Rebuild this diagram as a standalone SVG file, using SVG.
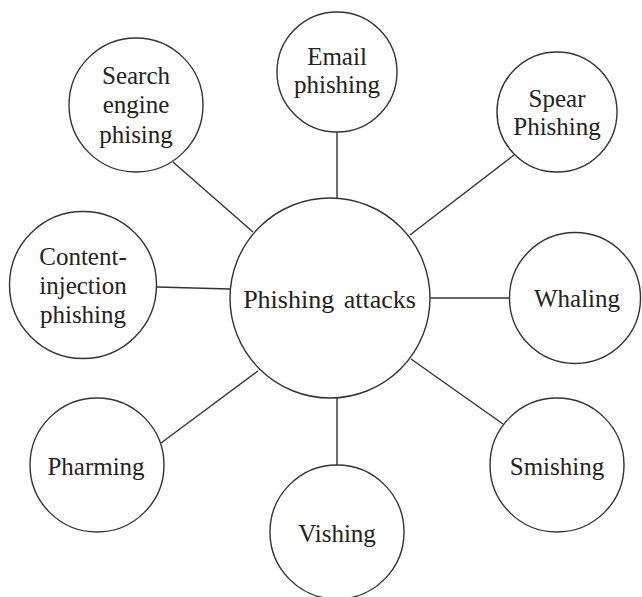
<svg xmlns="http://www.w3.org/2000/svg" width="642" height="597" viewBox="0 0 642 597">
<style>
.n{fill:#fff;stroke:#333;stroke-width:1.4}
.t{font-family:"Liberation Serif","Times New Roman",serif;font-size:25px;fill:#222;text-anchor:middle}
.c line{stroke:#333;stroke-width:1.4}
</style>
<rect width="642" height="597" fill="#fff"/>
<g class="c" id="connectors">
<line x1="173" y1="162" x2="253" y2="232"/>
<line x1="337" y1="132" x2="337" y2="198"/>
<line x1="514" y1="155" x2="410" y2="235"/>
<line x1="157" y1="287" x2="230" y2="289"/>
<line x1="430" y1="298" x2="510" y2="298"/>
<line x1="411" y1="359" x2="503" y2="424"/>
<line x1="337" y1="398" x2="337" y2="465"/>
<line x1="161" y1="443" x2="258" y2="371"/>
</g>
<g id="center"><circle class="n" cx="330" cy="298" r="100"/><text class="t" x="329.5" y="308" style="font-size:26px" word-spacing="3">Phishing attacks</text></g>
<g id="search"><circle class="n" cx="136" cy="105" r="67"/><text class="t" x="136" y="84">Search</text><text class="t" x="136" y="113">engine</text><text class="t" x="136" y="143">phising</text></g>
<g id="email"><circle class="n" cx="337" cy="72" r="60"/><text class="t" x="337" y="65">Email</text><text class="t" x="337" y="93">phishing</text></g>
<g id="spear"><circle class="n" cx="557" cy="112" r="60"/><text class="t" x="557" y="107">Spear</text><text class="t" x="557" y="135">Phishing</text></g>
<g id="content"><circle class="n" cx="83" cy="285" r="73.5"/><text class="t" x="83" y="265">Content-</text><text class="t" x="83" y="294">injection</text><text class="t" x="83" y="323">phishing</text></g>
<g id="whaling"><circle class="n" cx="575" cy="298" r="65.5"/><text class="t" x="577" y="307">Whaling</text></g>
<g id="smishing"><circle class="n" cx="557" cy="465" r="67"/><text class="t" x="557" y="475">Smishing</text></g>
<g id="pharming"><circle class="n" cx="97" cy="465" r="67"/><text class="t" x="96" y="475">Pharming</text></g>
<g id="vishing"><circle class="n" cx="337" cy="532" r="67"/><text class="t" x="337" y="542">Vishing</text></g>
</svg>
